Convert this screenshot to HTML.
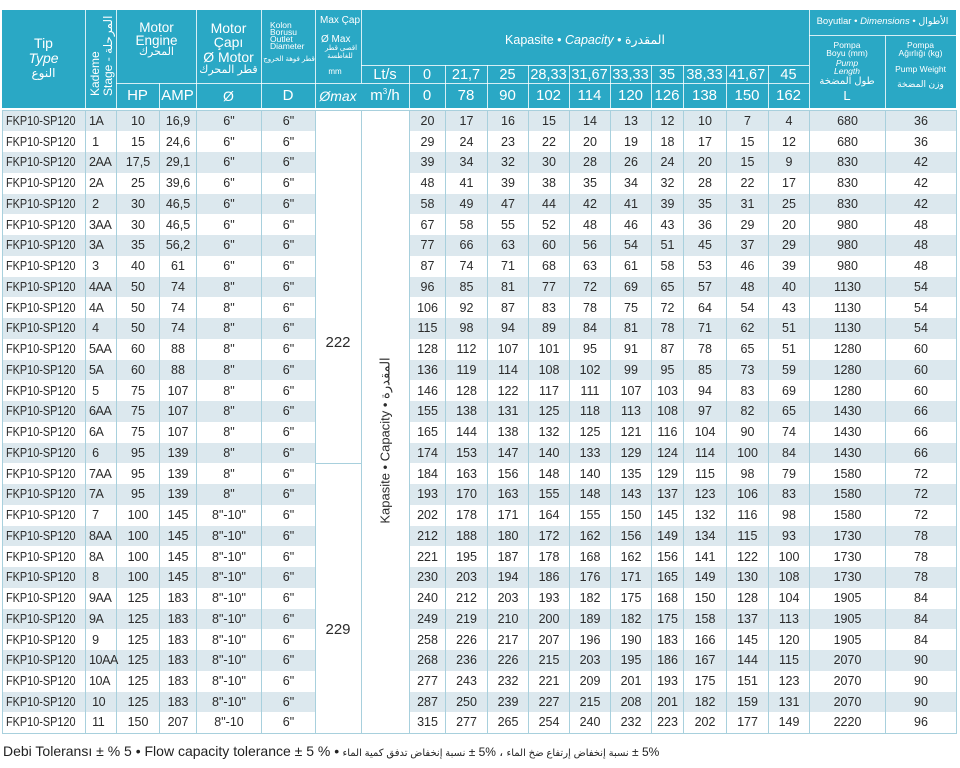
<!DOCTYPE html>
<html>
<head>
<meta charset="utf-8">
<style>
html,body{margin:0;padding:0;background:#fff;}
body{width:960px;height:768px;position:relative;overflow:hidden;font-family:"Liberation Sans","DejaVu Sans",sans-serif;}
.hdr{position:absolute;left:2px;top:10px;width:954px;height:98px;background:#2aa8c5;}
.vl{position:absolute;width:1px;background:rgba(255,255,255,0.8);}
.hl{position:absolute;height:1px;background:rgba(255,255,255,0.8);}
.h{position:absolute;color:#fff;text-align:center;white-space:nowrap;line-height:1;}
.l{text-align:left;}
i{font-style:italic;}
table{position:absolute;left:2px;top:110px;width:954px;border-collapse:collapse;table-layout:fixed;font-size:12.5px;color:#2b2b2b;border:1px solid #a8d0dd;}
tr{height:20.75px;}
td{padding:0;text-align:center;border-left:1px solid #a8d0dd;border-right:1px solid #a8d0dd;white-space:nowrap;overflow:hidden;line-height:14px;}
tr:nth-child(odd) td{background:#dce8ee;}
td.w{background:#fff !important;}
td.bt{border-top:1px solid #a8d0dd;}
td.tp{text-align:left;padding-left:3px;}
td.tp span{display:inline-block;transform:scaleX(0.87);transform-origin:0 50%;}
td.k{text-align:left;padding-left:3px;letter-spacing:-0.4px;overflow:visible;}
.ov{position:absolute;color:#2b2b2b;text-align:center;white-space:nowrap;line-height:1;}
.foot{position:absolute;left:3px;top:744px;font-size:14px;color:#222;white-space:nowrap;line-height:1;}
.foot .ar{font-size:12px;}
.foot bdi{font-size:10px;}
</style>
</head>
<body>
<div class="hdr"></div>
<!-- header lines -->
<div class="vl" style="left:85px;top:10px;height:98px"></div>
<div class="vl" style="left:116px;top:10px;height:98px"></div>
<div class="vl" style="left:159px;top:83px;height:25px"></div>
<div class="vl" style="left:196px;top:10px;height:98px"></div>
<div class="vl" style="left:261px;top:10px;height:98px"></div>
<div class="vl" style="left:315px;top:10px;height:98px"></div>
<div class="vl" style="left:361px;top:10px;height:73px"></div>
<div class="vl" style="left:409px;top:65px;height:43px"></div>
<div class="vl" style="left:445px;top:65px;height:43px"></div>
<div class="vl" style="left:487px;top:65px;height:43px"></div>
<div class="vl" style="left:528px;top:65px;height:43px"></div>
<div class="vl" style="left:569px;top:65px;height:43px"></div>
<div class="vl" style="left:610px;top:65px;height:43px"></div>
<div class="vl" style="left:651px;top:65px;height:43px"></div>
<div class="vl" style="left:683px;top:65px;height:43px"></div>
<div class="vl" style="left:726px;top:65px;height:43px"></div>
<div class="vl" style="left:768px;top:65px;height:43px"></div>
<div class="vl" style="left:809px;top:10px;height:98px"></div>
<div class="vl" style="left:885px;top:35px;height:73px"></div>
<div class="hl" style="left:116px;top:83px;width:693px"></div>
<div class="hl" style="left:361px;top:65px;width:448px"></div>
<div class="hl" style="left:809px;top:35px;width:147px"></div>

<!-- Tip -->
<div class="h" style="left:2px;width:83px;top:36px;font-size:14px">Tip</div>
<div class="h" style="left:2px;width:83px;top:51px;font-size:14px"><i>Type</i></div>
<div class="h" style="left:2px;width:83px;top:67px;font-size:12px">النوع</div>

<!-- Kademe vertical -->
<div class="h l" style="left:89px;top:96px;width:90px;height:26px;font-size:12px;line-height:12.5px;transform-origin:0 0;transform:rotate(-90deg);white-space:normal">Kademe<br>Stage - <bdi>المرحلة</bdi></div>

<!-- Motor Engine -->
<div class="h" style="left:117px;width:79px;top:21px;font-size:13.5px">Motor</div>
<div class="h" style="left:117px;width:79px;top:34px;font-size:13.5px">Engine</div>
<div class="h" style="left:117px;width:79px;top:47px;font-size:11px">المحرك</div>

<!-- Motor Capi -->
<div class="h" style="left:196px;width:65px;top:21px;font-size:14px">Motor</div>
<div class="h" style="left:196px;width:65px;top:35px;font-size:14px">Çapı</div>
<div class="h" style="left:196px;width:65px;top:50px;font-size:14px">Ø Motor</div>
<div class="h" style="left:196px;width:65px;top:65px;font-size:11px">قطر المحرك</div>

<!-- Kolon -->
<div class="h l" style="left:270px;top:21px;font-size:8.5px">Kolon</div>
<div class="h l" style="left:270px;top:28px;font-size:8.5px">Borusu</div>
<div class="h l" style="left:270px;top:35px;font-size:8.5px">Outlet</div>
<div class="h l" style="left:270px;top:42px;font-size:8.5px">Diameter</div>
<div class="h" style="left:263px;width:52px;top:56px;font-size:7px">قطر فوهة الخروج</div>

<!-- Max Cap -->
<div class="h l" style="left:320px;top:16px;font-size:10px">Max Çap</div>
<div class="h l" style="left:321px;top:35px;font-size:10px">Ø Max</div>
<div class="h" style="left:325px;width:30px;top:45px;font-size:7px">اقصى قطر</div>
<div class="h" style="left:325px;width:30px;top:53px;font-size:7px">للغاطسة</div>
<div class="h" style="left:317px;width:36px;top:68px;font-size:8px">mm</div>

<!-- Kapasite -->
<div class="h" style="left:361px;width:448px;top:34px;font-size:12.5px">Kapasite • <i>Capacity</i> • <bdi>المقدرة</bdi></div>

<!-- Lt/s row -->
<div class="h" style="left:361px;width:48px;top:68px;font-size:14.5px">Lt/s</div>
<div class="h" style="left:409px;width:36px;top:68px;font-size:14.5px">0</div>
<div class="h" style="left:445px;width:42px;top:68px;font-size:14.5px">21,7</div>
<div class="h" style="left:487px;width:41px;top:68px;font-size:14.5px">25</div>
<div class="h" style="left:528px;width:41px;top:68px;font-size:14.5px">28,33</div>
<div class="h" style="left:569px;width:41px;top:68px;font-size:14.5px">31,67</div>
<div class="h" style="left:610px;width:41px;top:68px;font-size:14.5px">33,33</div>
<div class="h" style="left:651px;width:32px;top:68px;font-size:14.5px">35</div>
<div class="h" style="left:683px;width:43px;top:68px;font-size:14.5px">38,33</div>
<div class="h" style="left:726px;width:42px;top:68px;font-size:14.5px">41,67</div>
<div class="h" style="left:768px;width:41px;top:68px;font-size:14.5px">45</div>

<!-- bottom header row -->
<div class="h" style="left:116px;width:43px;top:88px;font-size:15px">HP</div>
<div class="h" style="left:159px;width:37px;top:88px;font-size:15px">AMP</div>
<div class="h" style="left:196px;width:65px;top:89px;font-size:14px">Ø</div>
<div class="h" style="left:261px;width:54px;top:88px;font-size:15px">D</div>
<div class="h" style="left:315px;width:46px;top:89px;font-size:14px"><i>Ømax</i></div>
<div class="h" style="left:361px;width:48px;top:88px;font-size:15px">m<sup style="font-size:8px;vertical-align:6px">3</sup>/h</div>
<div class="h" style="left:409px;width:36px;top:88px;font-size:15px">0</div>
<div class="h" style="left:445px;width:42px;top:88px;font-size:15px">78</div>
<div class="h" style="left:487px;width:41px;top:88px;font-size:15px">90</div>
<div class="h" style="left:528px;width:41px;top:88px;font-size:15px">102</div>
<div class="h" style="left:569px;width:41px;top:88px;font-size:15px">114</div>
<div class="h" style="left:610px;width:41px;top:88px;font-size:15px">120</div>
<div class="h" style="left:651px;width:32px;top:88px;font-size:15px">126</div>
<div class="h" style="left:683px;width:43px;top:88px;font-size:15px">138</div>
<div class="h" style="left:726px;width:42px;top:88px;font-size:15px">150</div>
<div class="h" style="left:768px;width:41px;top:88px;font-size:15px">162</div>

<!-- Boyutlar -->
<div class="h" style="left:809px;width:147px;top:17px;font-size:9.5px">Boyutlar • <i>Dimensions</i> • <bdi>الأطوال</bdi></div>
<div class="h" style="left:809px;width:76px;top:41px;font-size:8.5px">Pompa</div>
<div class="h" style="left:809px;width:76px;top:49px;font-size:8.5px">Boyu (mm)</div>
<div class="h" style="left:809px;width:76px;top:59px;font-size:8.5px"><i>Pump</i></div>
<div class="h" style="left:809px;width:76px;top:67px;font-size:8.5px"><i>Length</i></div>
<div class="h" style="left:809px;width:76px;top:77px;font-size:10px">طول المضخة</div>
<div class="h" style="left:809px;width:76px;top:89px;font-size:13px">L</div>
<div class="h" style="left:885px;width:71px;top:41px;font-size:8.5px">Pompa</div>
<div class="h" style="left:885px;width:71px;top:49px;font-size:8.5px">Ağırlığı (kg)</div>
<div class="h" style="left:885px;width:71px;top:65px;font-size:8.5px">Pump Weight</div>
<div class="h" style="left:885px;width:71px;top:80px;font-size:9px">وزن المضخة</div>

<table>
<colgroup>
<col style="width:83px"><col style="width:31px"><col style="width:43px"><col style="width:37px"><col style="width:65px"><col style="width:54px"><col style="width:46px"><col style="width:48px"><col style="width:36px"><col style="width:42px"><col style="width:41px"><col style="width:41px"><col style="width:41px"><col style="width:41px"><col style="width:32px"><col style="width:43px"><col style="width:42px"><col style="width:41px"><col style="width:76px"><col style="width:71px">
</colgroup>
<tr><td class="tp"><span>FKP10-SP120</span></td><td class="k">1A</td><td>10</td><td>16,9</td><td>6"</td><td>6"</td><td class="w" rowspan="17"></td><td class="w" rowspan="30"></td><td>20</td><td>17</td><td>16</td><td>15</td><td>14</td><td>13</td><td>12</td><td>10</td><td>7</td><td>4</td><td>680</td><td>36</td></tr>
<tr><td class="tp"><span>FKP10-SP120</span></td><td class="k">&nbsp;1</td><td>15</td><td>24,6</td><td>6"</td><td>6"</td><td>29</td><td>24</td><td>23</td><td>22</td><td>20</td><td>19</td><td>18</td><td>17</td><td>15</td><td>12</td><td>680</td><td>36</td></tr>
<tr><td class="tp"><span>FKP10-SP120</span></td><td class="k">2AA</td><td>17,5</td><td>29,1</td><td>6"</td><td>6"</td><td>39</td><td>34</td><td>32</td><td>30</td><td>28</td><td>26</td><td>24</td><td>20</td><td>15</td><td>9</td><td>830</td><td>42</td></tr>
<tr><td class="tp"><span>FKP10-SP120</span></td><td class="k">2A</td><td>25</td><td>39,6</td><td>6"</td><td>6"</td><td>48</td><td>41</td><td>39</td><td>38</td><td>35</td><td>34</td><td>32</td><td>28</td><td>22</td><td>17</td><td>830</td><td>42</td></tr>
<tr><td class="tp"><span>FKP10-SP120</span></td><td class="k">&nbsp;2</td><td>30</td><td>46,5</td><td>6"</td><td>6"</td><td>58</td><td>49</td><td>47</td><td>44</td><td>42</td><td>41</td><td>39</td><td>35</td><td>31</td><td>25</td><td>830</td><td>42</td></tr>
<tr><td class="tp"><span>FKP10-SP120</span></td><td class="k">3AA</td><td>30</td><td>46,5</td><td>6"</td><td>6"</td><td>67</td><td>58</td><td>55</td><td>52</td><td>48</td><td>46</td><td>43</td><td>36</td><td>29</td><td>20</td><td>980</td><td>48</td></tr>
<tr><td class="tp"><span>FKP10-SP120</span></td><td class="k">3A</td><td>35</td><td>56,2</td><td>6"</td><td>6"</td><td>77</td><td>66</td><td>63</td><td>60</td><td>56</td><td>54</td><td>51</td><td>45</td><td>37</td><td>29</td><td>980</td><td>48</td></tr>
<tr><td class="tp"><span>FKP10-SP120</span></td><td class="k">&nbsp;3</td><td>40</td><td>61</td><td>6"</td><td>6"</td><td>87</td><td>74</td><td>71</td><td>68</td><td>63</td><td>61</td><td>58</td><td>53</td><td>46</td><td>39</td><td>980</td><td>48</td></tr>
<tr><td class="tp"><span>FKP10-SP120</span></td><td class="k">4AA</td><td>50</td><td>74</td><td>8"</td><td>6"</td><td>96</td><td>85</td><td>81</td><td>77</td><td>72</td><td>69</td><td>65</td><td>57</td><td>48</td><td>40</td><td>1130</td><td>54</td></tr>
<tr><td class="tp"><span>FKP10-SP120</span></td><td class="k">4A</td><td>50</td><td>74</td><td>8"</td><td>6"</td><td>106</td><td>92</td><td>87</td><td>83</td><td>78</td><td>75</td><td>72</td><td>64</td><td>54</td><td>43</td><td>1130</td><td>54</td></tr>
<tr><td class="tp"><span>FKP10-SP120</span></td><td class="k">&nbsp;4</td><td>50</td><td>74</td><td>8"</td><td>6"</td><td>115</td><td>98</td><td>94</td><td>89</td><td>84</td><td>81</td><td>78</td><td>71</td><td>62</td><td>51</td><td>1130</td><td>54</td></tr>
<tr><td class="tp"><span>FKP10-SP120</span></td><td class="k">5AA</td><td>60</td><td>88</td><td>8"</td><td>6"</td><td>128</td><td>112</td><td>107</td><td>101</td><td>95</td><td>91</td><td>87</td><td>78</td><td>65</td><td>51</td><td>1280</td><td>60</td></tr>
<tr><td class="tp"><span>FKP10-SP120</span></td><td class="k">5A</td><td>60</td><td>88</td><td>8"</td><td>6"</td><td>136</td><td>119</td><td>114</td><td>108</td><td>102</td><td>99</td><td>95</td><td>85</td><td>73</td><td>59</td><td>1280</td><td>60</td></tr>
<tr><td class="tp"><span>FKP10-SP120</span></td><td class="k">&nbsp;5</td><td>75</td><td>107</td><td>8"</td><td>6"</td><td>146</td><td>128</td><td>122</td><td>117</td><td>111</td><td>107</td><td>103</td><td>94</td><td>83</td><td>69</td><td>1280</td><td>60</td></tr>
<tr><td class="tp"><span>FKP10-SP120</span></td><td class="k">6AA</td><td>75</td><td>107</td><td>8"</td><td>6"</td><td>155</td><td>138</td><td>131</td><td>125</td><td>118</td><td>113</td><td>108</td><td>97</td><td>82</td><td>65</td><td>1430</td><td>66</td></tr>
<tr><td class="tp"><span>FKP10-SP120</span></td><td class="k">6A</td><td>75</td><td>107</td><td>8"</td><td>6"</td><td>165</td><td>144</td><td>138</td><td>132</td><td>125</td><td>121</td><td>116</td><td>104</td><td>90</td><td>74</td><td>1430</td><td>66</td></tr>
<tr><td class="tp"><span>FKP10-SP120</span></td><td class="k">&nbsp;6</td><td>95</td><td>139</td><td>8"</td><td>6"</td><td>174</td><td>153</td><td>147</td><td>140</td><td>133</td><td>129</td><td>124</td><td>114</td><td>100</td><td>84</td><td>1430</td><td>66</td></tr>
<tr><td class="tp"><span>FKP10-SP120</span></td><td class="k">7AA</td><td>95</td><td>139</td><td>8"</td><td>6"</td><td class="w bt" rowspan="13"></td><td>184</td><td>163</td><td>156</td><td>148</td><td>140</td><td>135</td><td>129</td><td>115</td><td>98</td><td>79</td><td>1580</td><td>72</td></tr>
<tr><td class="tp"><span>FKP10-SP120</span></td><td class="k">7A</td><td>95</td><td>139</td><td>8"</td><td>6"</td><td>193</td><td>170</td><td>163</td><td>155</td><td>148</td><td>143</td><td>137</td><td>123</td><td>106</td><td>83</td><td>1580</td><td>72</td></tr>
<tr><td class="tp"><span>FKP10-SP120</span></td><td class="k">&nbsp;7</td><td>100</td><td>145</td><td>8"-10"</td><td>6"</td><td>202</td><td>178</td><td>171</td><td>164</td><td>155</td><td>150</td><td>145</td><td>132</td><td>116</td><td>98</td><td>1580</td><td>72</td></tr>
<tr><td class="tp"><span>FKP10-SP120</span></td><td class="k">8AA</td><td>100</td><td>145</td><td>8"-10"</td><td>6"</td><td>212</td><td>188</td><td>180</td><td>172</td><td>162</td><td>156</td><td>149</td><td>134</td><td>115</td><td>93</td><td>1730</td><td>78</td></tr>
<tr><td class="tp"><span>FKP10-SP120</span></td><td class="k">8A</td><td>100</td><td>145</td><td>8"-10"</td><td>6"</td><td>221</td><td>195</td><td>187</td><td>178</td><td>168</td><td>162</td><td>156</td><td>141</td><td>122</td><td>100</td><td>1730</td><td>78</td></tr>
<tr><td class="tp"><span>FKP10-SP120</span></td><td class="k">&nbsp;8</td><td>100</td><td>145</td><td>8"-10"</td><td>6"</td><td>230</td><td>203</td><td>194</td><td>186</td><td>176</td><td>171</td><td>165</td><td>149</td><td>130</td><td>108</td><td>1730</td><td>78</td></tr>
<tr><td class="tp"><span>FKP10-SP120</span></td><td class="k">9AA</td><td>125</td><td>183</td><td>8"-10"</td><td>6"</td><td>240</td><td>212</td><td>203</td><td>193</td><td>182</td><td>175</td><td>168</td><td>150</td><td>128</td><td>104</td><td>1905</td><td>84</td></tr>
<tr><td class="tp"><span>FKP10-SP120</span></td><td class="k">9A</td><td>125</td><td>183</td><td>8"-10"</td><td>6"</td><td>249</td><td>219</td><td>210</td><td>200</td><td>189</td><td>182</td><td>175</td><td>158</td><td>137</td><td>113</td><td>1905</td><td>84</td></tr>
<tr><td class="tp"><span>FKP10-SP120</span></td><td class="k">&nbsp;9</td><td>125</td><td>183</td><td>8"-10"</td><td>6"</td><td>258</td><td>226</td><td>217</td><td>207</td><td>196</td><td>190</td><td>183</td><td>166</td><td>145</td><td>120</td><td>1905</td><td>84</td></tr>
<tr><td class="tp"><span>FKP10-SP120</span></td><td class="k">10AA</td><td>125</td><td>183</td><td>8"-10"</td><td>6"</td><td>268</td><td>236</td><td>226</td><td>215</td><td>203</td><td>195</td><td>186</td><td>167</td><td>144</td><td>115</td><td>2070</td><td>90</td></tr>
<tr><td class="tp"><span>FKP10-SP120</span></td><td class="k">10A</td><td>125</td><td>183</td><td>8"-10"</td><td>6"</td><td>277</td><td>243</td><td>232</td><td>221</td><td>209</td><td>201</td><td>193</td><td>175</td><td>151</td><td>123</td><td>2070</td><td>90</td></tr>
<tr><td class="tp"><span>FKP10-SP120</span></td><td class="k">&nbsp;10</td><td>125</td><td>183</td><td>8"-10"</td><td>6"</td><td>287</td><td>250</td><td>239</td><td>227</td><td>215</td><td>208</td><td>201</td><td>182</td><td>159</td><td>131</td><td>2070</td><td>90</td></tr>
<tr><td class="tp"><span>FKP10-SP120</span></td><td class="k">&nbsp;11</td><td>150</td><td>207</td><td>8"-10</td><td>6"</td><td>315</td><td>277</td><td>265</td><td>254</td><td>240</td><td>232</td><td>223</td><td>202</td><td>177</td><td>149</td><td>2220</td><td>96</td></tr>
</table>

<!-- overlays in merged cells -->
<div class="ov" style="left:315px;width:46px;top:335px;font-size:15px">222</div>
<div class="ov" style="left:315px;width:46px;top:622px;font-size:15px">229</div>
<div class="ov" style="left:285px;width:200px;top:434px;font-size:13px;transform:rotate(-90deg)">Kapasite • Capacity • <bdi>المقدرة</bdi></div>

<div class="foot">Debi Toleransı ± % 5 • Flow capacity tolerance ± 5 % •<span class="ar"> <bdi>نسبة إنخفاض تدفق كمية الماء</bdi> ± 5% ، <bdi>نسبة إنخفاض إرتفاع ضخ الماء</bdi> ± 5%</span></div>
</body>
</html>
